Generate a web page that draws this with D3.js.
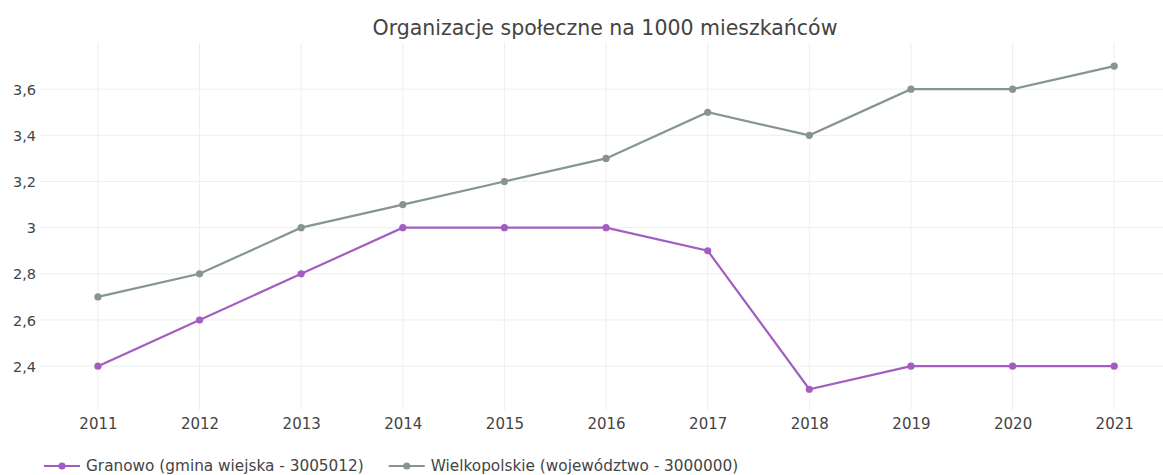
<!DOCTYPE html>
<html>
<head>
<meta charset="utf-8">
<script src="https://cdn.jsdelivr.net/npm/d3@7"></script>
<style>
  body { margin: 0; background: #fff; }
  svg text { font-family: "DejaVu Sans", Verdana, sans-serif; fill: #444; }
</style>
</head>
<body>
<div id="chart"></div>
<script>
// data
const years = [2011, 2012, 2013, 2014, 2015, 2016, 2017, 2018, 2019, 2020, 2021];
const granowo = [2.4, 2.6, 2.8, 3.0, 3.0, 3.0, 2.9, 2.3, 2.4, 2.4, 2.4];
const wielkopolskie = [2.7, 2.8, 3.0, 3.1, 3.2, 3.3, 3.5, 3.4, 3.6, 3.6, 3.7];
const yTicks = [2.4, 2.6, 2.8, 3.0, 3.2, 3.4, 3.6];
const seriesNames = ["Granowo (gmina wiejska - 3005012)", "Wielkopolskie (województwo - 3000000)"];
const seriesColors = ["#a35dc2", "#879494"];
const title = "Organizacje społeczne na 1000 mieszkańców";

{
  const width = 1163, height = 475;
  const plot = { left: 40, right: 1163, top: 43, bottom: 410 };

  const svg = d3.select('#chart').append('svg')
    .attr('width', width)
    .attr('height', height);

  const x = d3.scaleLinear()
    .domain([2010.43, 2021.48])
    .range([plot.left, plot.right]);

  const y = d3.scaleLinear()
    .domain([2.21, 3.8])
    .range([plot.bottom, plot.top]);

  // grid
  const grid = svg.append('g').attr('class', 'grid');
  grid.selectAll('line.v')
    .data(years)
    .enter().append('line')
      .attr('x1', d => x(d)).attr('x2', d => x(d))
      .attr('y1', plot.top).attr('y2', plot.bottom)
      .attr('stroke', '#eeeeee').attr('stroke-width', 1);
  grid.selectAll('line.h')
    .data(yTicks)
    .enter().append('line')
      .attr('x1', plot.left).attr('x2', plot.right)
      .attr('y1', d => y(d)).attr('y2', d => y(d))
      .attr('stroke', '#eeeeee').attr('stroke-width', 1);

  // axes (labels only, plotly style)
  const fmt = d => d3.format('.1f')(d).replace('.0', '').replace('.', ',');
  const yAxis = svg.append('g')
    .attr('transform', `translate(${36},0)`)
    .call(d3.axisLeft(y).tickValues(yTicks).tickFormat(fmt).tickSize(0));
  yAxis.select('.domain').remove();
  yAxis.selectAll('text').attr('font-size', 14.5).attr('x', 0).attr('dy', '0.35em');

  const xAxis = svg.append('g')
    .attr('transform', `translate(0,${plot.bottom + 5})`)
    .call(d3.axisBottom(x).tickValues(years).tickFormat(d3.format('d')).tickSize(0));
  xAxis.select('.domain').remove();
  xAxis.selectAll('text').attr('font-size', 15).attr('y', 0).attr('dy', '0.95em');

  // series
  const series = [granowo, wielkopolskie];
  const line = d3.line()
    .x((d, i) => x(years[i]))
    .y(d => y(d));

  series.slice().reverse().forEach((vals, j) => {
    const k = series.length - 1 - j;
    const g = svg.append('g');
    g.append('path')
      .datum(vals)
      .attr('d', line)
      .attr('fill', 'none')
      .attr('stroke', seriesColors[k])
      .attr('stroke-width', 2.2);
    g.selectAll('circle')
      .data(vals)
      .enter().append('circle')
        .attr('cx', (d, i) => x(years[i]))
        .attr('cy', d => y(d))
        .attr('r', 3.6)
        .attr('fill', seriesColors[k]);
  });

  // title
  svg.append('text')
    .attr('x', 605).attr('y', 35)
    .attr('text-anchor', 'middle')
    .attr('font-size', 20.5)
    .text(title);

  // legend
  const legend = svg.append('g').attr('transform', `translate(44,466)`);
  let lx = 0;
  seriesNames.forEach((name, i) => {
    const item = legend.append('g').attr('transform', `translate(${lx},0)`);
    item.append('line')
      .attr('x1', 0).attr('x2', 36).attr('y1', 0).attr('y2', 0)
      .attr('stroke', seriesColors[i]).attr('stroke-width', 2.2);
    item.append('circle')
      .attr('cx', 18).attr('cy', 0).attr('r', 3.6)
      .attr('fill', seriesColors[i]);
    const t = item.append('text')
      .attr('x', 42).attr('dy', '0.35em')
      .attr('font-size', 15.3)
      .text(name);
    lx += 42 + t.node().getComputedTextLength() + 25;
  });
}
</script>
</body>
</html>
